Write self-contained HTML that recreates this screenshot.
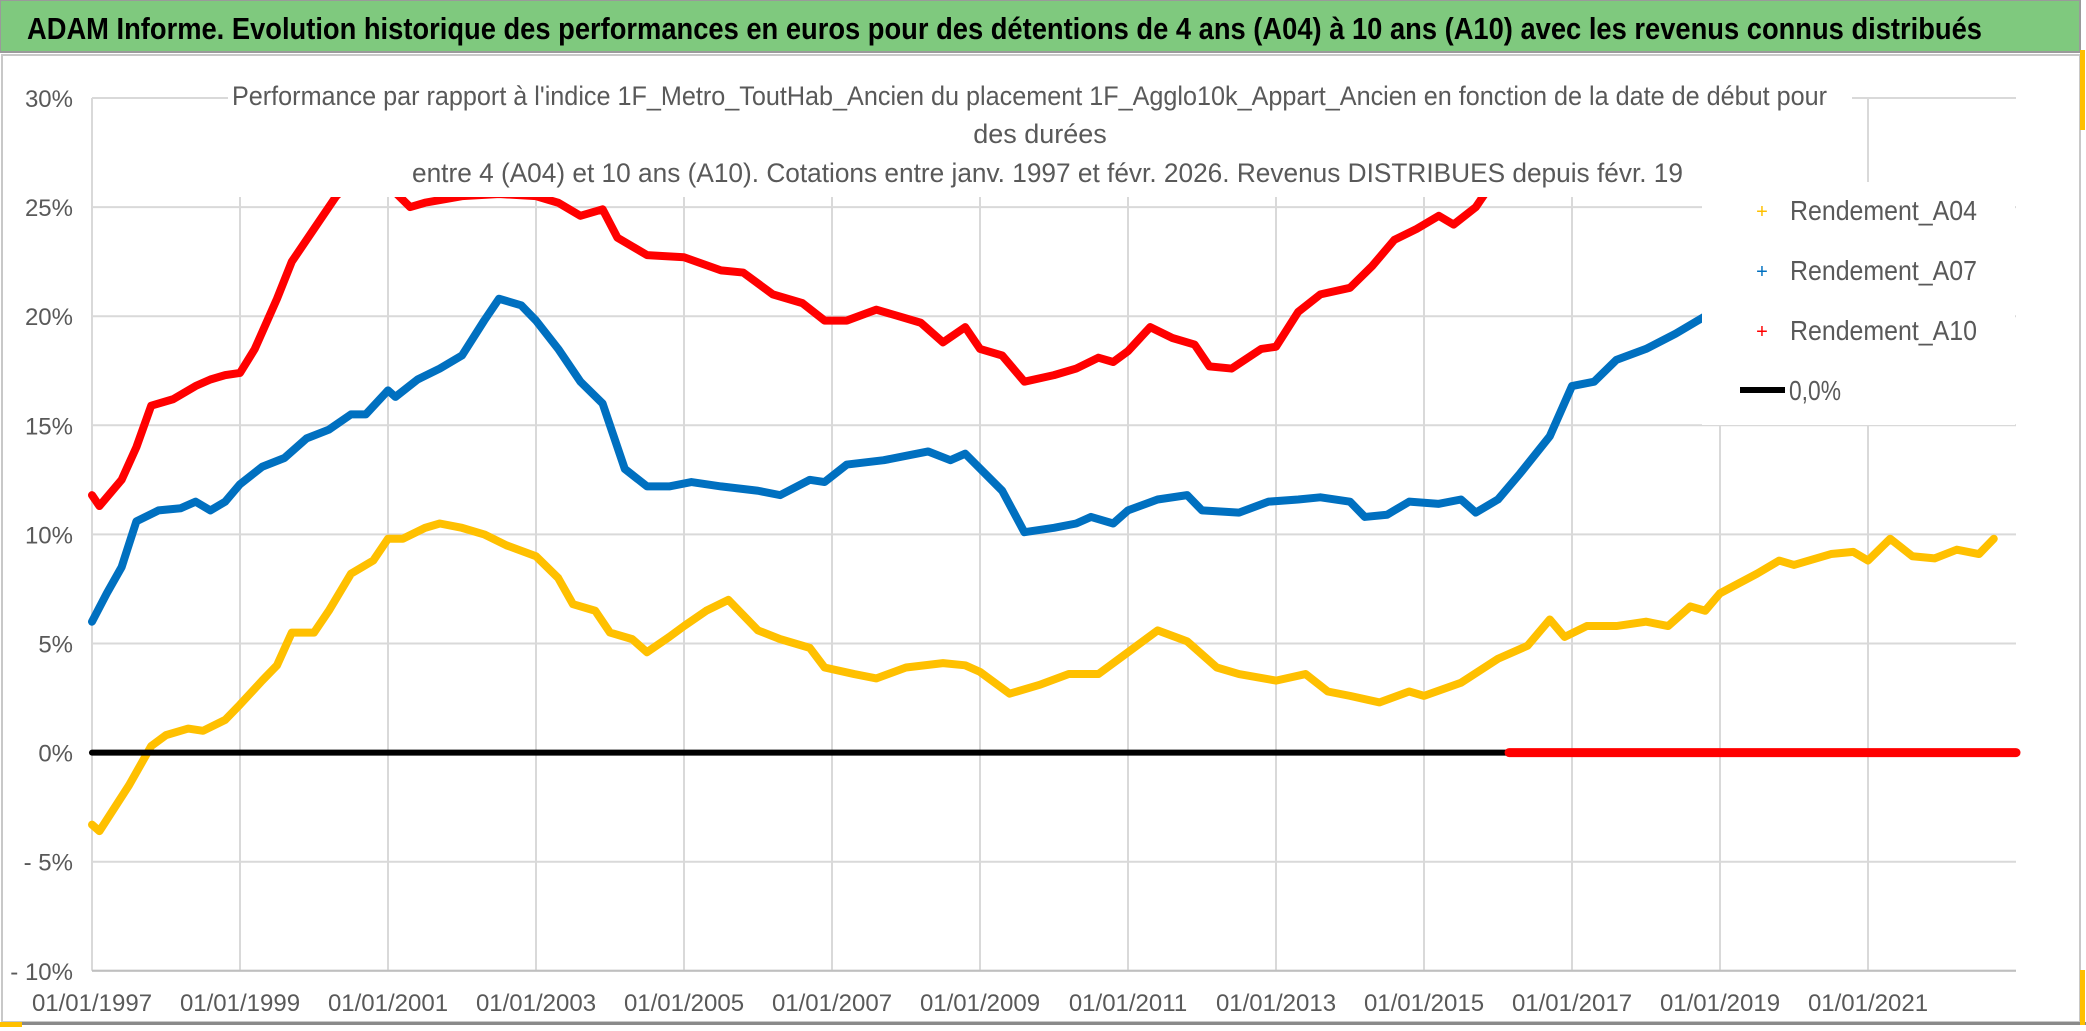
<!DOCTYPE html>
<html><head><meta charset="utf-8"><style>
html,body{margin:0;padding:0;background:#fff;}
svg{display:block;}
text{font-family:"Liberation Sans",sans-serif;}
</style></head><body>
<svg id="chart" width="2086" height="1031" xmlns="http://www.w3.org/2000/svg">
<rect x="0" y="0" width="2086" height="1031" fill="#fff"/>
<rect x="0" y="0" width="2080" height="52" fill="#7FC97E" stroke="#9a9a9a" stroke-width="2"/>
<text x="27" y="39" font-size="31" font-weight="bold" fill="#000" textLength="1955" lengthAdjust="spacingAndGlyphs">ADAM Informe. Evolution historique des performances en euros pour des détentions de 4 ans (A04) à 10 ans (A10) avec les revenus connus distribués</text>
<rect x="2" y="55" width="2078" height="967" fill="none" stroke="#c8c8c8" stroke-width="2"/>
<rect x="0" y="1022" width="2086" height="3" fill="#8a8a8a"/>
<rect x="0" y="1022" width="22" height="5" fill="#FFC000"/>
<rect x="2080" y="50" width="5" height="80" fill="#FFC000"/>
<rect x="2080" y="970" width="5" height="55" fill="#FFC000"/>
<g id="grid"></g>
<g id="series"></g>
<rect x="228" y="85" width="1624" height="112" fill="#fff"/>
<rect x="1702" y="182" width="313" height="243" fill="#fff"/>
<g fill="#595959" font-size="27">
<text x="232" y="105" textLength="1595" lengthAdjust="spacingAndGlyphs">Performance par rapport à l'indice 1F_Metro_ToutHab_Ancien  du placement 1F_Agglo10k_Appart_Ancien en fonction de la date de début pour</text>
<text x="1040" y="143" text-anchor="middle">des durées</text>
<text x="412" y="182" textLength="1271" lengthAdjust="spacingAndGlyphs">entre 4 (A04) et 10 ans (A10). Cotations entre janv. 1997 et févr. 2026. Revenus DISTRIBUES depuis févr. 19</text>
</g>
<g font-size="28" fill="#595959">
<g><text x="1762" y="218" fill="#FFC000" font-size="20" text-anchor="middle">+</text><text x="1790" y="220" textLength="187" lengthAdjust="spacingAndGlyphs">Rendement_A04</text></g>
<g><text x="1762" y="278" fill="#0070C0" font-size="20" text-anchor="middle">+</text><text x="1790" y="280" textLength="187" lengthAdjust="spacingAndGlyphs">Rendement_A07</text></g>
<g><text x="1762" y="338" fill="#FF0000" font-size="20" text-anchor="middle">+</text><text x="1790" y="340" textLength="187" lengthAdjust="spacingAndGlyphs">Rendement_A10</text></g>
<g><line x1="1740" y1="390" x2="1785" y2="390" stroke="#000" stroke-width="6"/><text x="1789" y="400" textLength="52" lengthAdjust="spacingAndGlyphs">0,0%</text></g>
</g>
<g id="axes"></g>
</svg>
<script>
const yTicks=[30,25,20,15,10,5,0,-5,-10];
const yTickLabels=["30%","25%","20%","15%","10%","5%","0%","- 5%","- 10%"];
const xTicks=[1997,1999,2001,2003,2005,2007,2009,2011,2013,2015,2017,2019,2021];
const xTickLabels=["01/01/1997","01/01/1999","01/01/2001","01/01/2003","01/01/2005","01/01/2007","01/01/2009","01/01/2011","01/01/2013","01/01/2015","01/01/2017","01/01/2019","01/01/2021"];
const a04Years=[1997.0,1997.1,1997.5,1997.8,1998.0,1998.3,1998.5,1998.8,1999.0,1999.3,1999.5,1999.7,2000.0,2000.2,2000.5,2000.8,2001.0,2001.2,2001.5,2001.7,2002.0,2002.3,2002.6,2003.0,2003.3,2003.5,2003.8,2004.0,2004.3,2004.5,2004.8,2005.0,2005.3,2005.6,2006.0,2006.3,2006.7,2006.9,2007.3,2007.6,2008.0,2008.5,2008.8,2009.0,2009.4,2009.8,2010.2,2010.6,2011.0,2011.4,2011.8,2012.2,2012.5,2013.0,2013.4,2013.7,2014.0,2014.4,2014.8,2015.0,2015.5,2016.0,2016.4,2016.7,2016.9,2017.2,2017.6,2018.0,2018.3,2018.6,2018.8,2019.0,2019.5,2019.8,2020.0,2020.5,2020.8,2021.0,2021.3,2021.6,2021.9,2022.2,2022.5,2022.7];
const a04Values=[-3.3,-3.6,-1.5,0.3,0.8,1.1,1.0,1.5,2.2,3.3,4.0,5.5,5.5,6.5,8.2,8.8,9.8,9.8,10.3,10.5,10.3,10.0,9.5,9.0,8.0,6.8,6.5,5.5,5.2,4.6,5.3,5.8,6.5,7.0,5.6,5.2,4.8,3.9,3.6,3.4,3.9,4.1,4.0,3.7,2.7,3.1,3.6,3.6,4.6,5.6,5.1,3.9,3.6,3.3,3.6,2.8,2.6,2.3,2.8,2.6,3.2,4.3,4.9,6.1,5.3,5.8,5.8,6.0,5.8,6.7,6.5,7.3,8.2,8.8,8.6,9.1,9.2,8.8,9.8,9.0,8.9,9.3,9.1,9.8];
const a07Years=[1997.0,1997.2,1997.4,1997.6,1997.9,1998.2,1998.4,1998.6,1998.8,1999.0,1999.3,1999.6,1999.9,2000.2,2000.5,2000.7,2001.0,2001.1,2001.4,2001.7,2002.0,2002.3,2002.5,2002.8,2003.0,2003.3,2003.6,2003.9,2004.2,2004.5,2004.8,2005.1,2005.5,2006.0,2006.3,2006.7,2006.9,2007.2,2007.7,2008.0,2008.3,2008.6,2008.8,2009.3,2009.6,2010.0,2010.3,2010.5,2010.8,2011.0,2011.4,2011.8,2012.0,2012.5,2012.9,2013.3,2013.6,2014.0,2014.2,2014.5,2014.8,2015.2,2015.5,2015.7,2016.0,2016.3,2016.7,2017.0,2017.3,2017.6,2018.0,2018.4,2018.8,2019.0,2019.3];
const a07Values=[6.0,7.3,8.5,10.6,11.1,11.2,11.5,11.1,11.5,12.3,13.1,13.5,14.4,14.8,15.5,15.5,16.6,16.3,17.1,17.6,18.2,19.8,20.8,20.5,19.8,18.5,17.0,16.0,13.0,12.2,12.2,12.4,12.2,12.0,11.8,12.5,12.4,13.2,13.4,13.6,13.8,13.4,13.7,12.0,10.1,10.3,10.5,10.8,10.5,11.1,11.6,11.8,11.1,11.0,11.5,11.6,11.7,11.5,10.8,10.9,11.5,11.4,11.6,11.0,11.6,12.8,14.5,16.8,17.0,18.0,18.5,19.2,20.0,20.3,20.5];
const a10Years=[1997.0,1997.1,1997.4,1997.6,1997.8,1998.1,1998.4,1998.6,1998.8,1999.0,1999.2,1999.5,1999.7,2000.0,2000.3,2000.6,2001.0,2001.3,2001.5,2002.0,2002.5,2003.0,2003.3,2003.6,2003.9,2004.1,2004.5,2005.0,2005.5,2005.8,2006.2,2006.6,2006.9,2007.2,2007.6,2007.9,2008.2,2008.5,2008.8,2009.0,2009.3,2009.6,2010.0,2010.3,2010.6,2010.8,2011.0,2011.3,2011.6,2011.9,2012.1,2012.4,2012.8,2013.0,2013.3,2013.6,2014.0,2014.3,2014.6,2014.9,2015.2,2015.4,2015.7,2016.0];
const a10Values=[11.8,11.3,12.5,14.0,15.9,16.2,16.8,17.1,17.3,17.4,18.5,20.8,22.5,24.0,25.5,26.5,26.0,25.0,25.2,25.5,25.6,25.5,25.2,24.6,24.9,23.6,22.8,22.7,22.1,22.0,21.0,20.6,19.8,19.8,20.3,20.0,19.7,18.8,19.5,18.5,18.2,17.0,17.3,17.6,18.1,17.9,18.4,19.5,19.0,18.7,17.7,17.6,18.5,18.6,20.2,21.0,21.3,22.3,23.5,24.0,24.6,24.2,25.0,26.5];
const a10ZeroYears=[2016.15,2023.0];
const a10ZeroValues=[0,0];
const zeroYears=[1997.0,2023.0];
const zeroValues=[0,0];

const NS="http://www.w3.org/2000/svg";
const X0=92, XW=74, Y30=98, YPER=21.82;
function xs(yr){return X0+(yr-1997)*XW;}
function ys(v){return Y30+(30-v)*YPER;}
function mk(tag,attrs,parent){const e=document.createElementNS(NS,tag);for(const k in attrs)e.setAttribute(k,attrs[k]);parent.appendChild(e);return e;}
const grid=document.getElementById('grid'),axes=document.getElementById('axes'),ser=document.getElementById('series');
yTicks.forEach((t,i)=>{
  const l=mk('line',{x1:X0,x2:xs(2023),y1:ys(t),y2:ys(t),stroke:'#d9d9d9','stroke-width':2},grid);
  
  
  const tx=mk('text',{x:73,y:ys(t)+9,'text-anchor':'end','font-size':24,fill:'#595959'},axes);
  tx.textContent=yTickLabels[i];
  
  
});
xTicks.forEach((t,i)=>{
  const l=mk('line',{x1:xs(t),x2:xs(t),y1:ys(30),y2:ys(-10),stroke:'#d9d9d9','stroke-width':2},grid);
  
  
  const tx=mk('text',{x:xs(t),y:1011,'text-anchor':'middle','font-size':24,fill:'#595959'},axes);
  tx.textContent=xTickLabels[i];
  
  
});
const xl=mk('line',{x1:X0,x2:xs(2023),y1:ys(-10),y2:ys(-10),stroke:'#bfbfbf','stroke-width':2},grid);


function poly(years,vals,color,w,name){
  const p=mk('polyline',{points:years.map((y,i)=>xs(y)+','+ys(vals[i])).join(' '),fill:'none',stroke:color,'stroke-width':w,'stroke-linejoin':'round','stroke-linecap':'round'},ser);
  
  
}
poly(a04Years,a04Values,'#FFC000',8,'series-rendement-a04');
poly(zeroYears,zeroValues,'#000000',6,'zero-line');
poly(a07Years,a07Values,'#0070C0',8,'series-rendement-a07');
poly(a10Years,a10Values,'#FF0000',8,'series-rendement-a10');
poly(a10ZeroYears,a10ZeroValues,'#FF0000',9,'series-rendement-a10-zero');
</script>
</body></html>
